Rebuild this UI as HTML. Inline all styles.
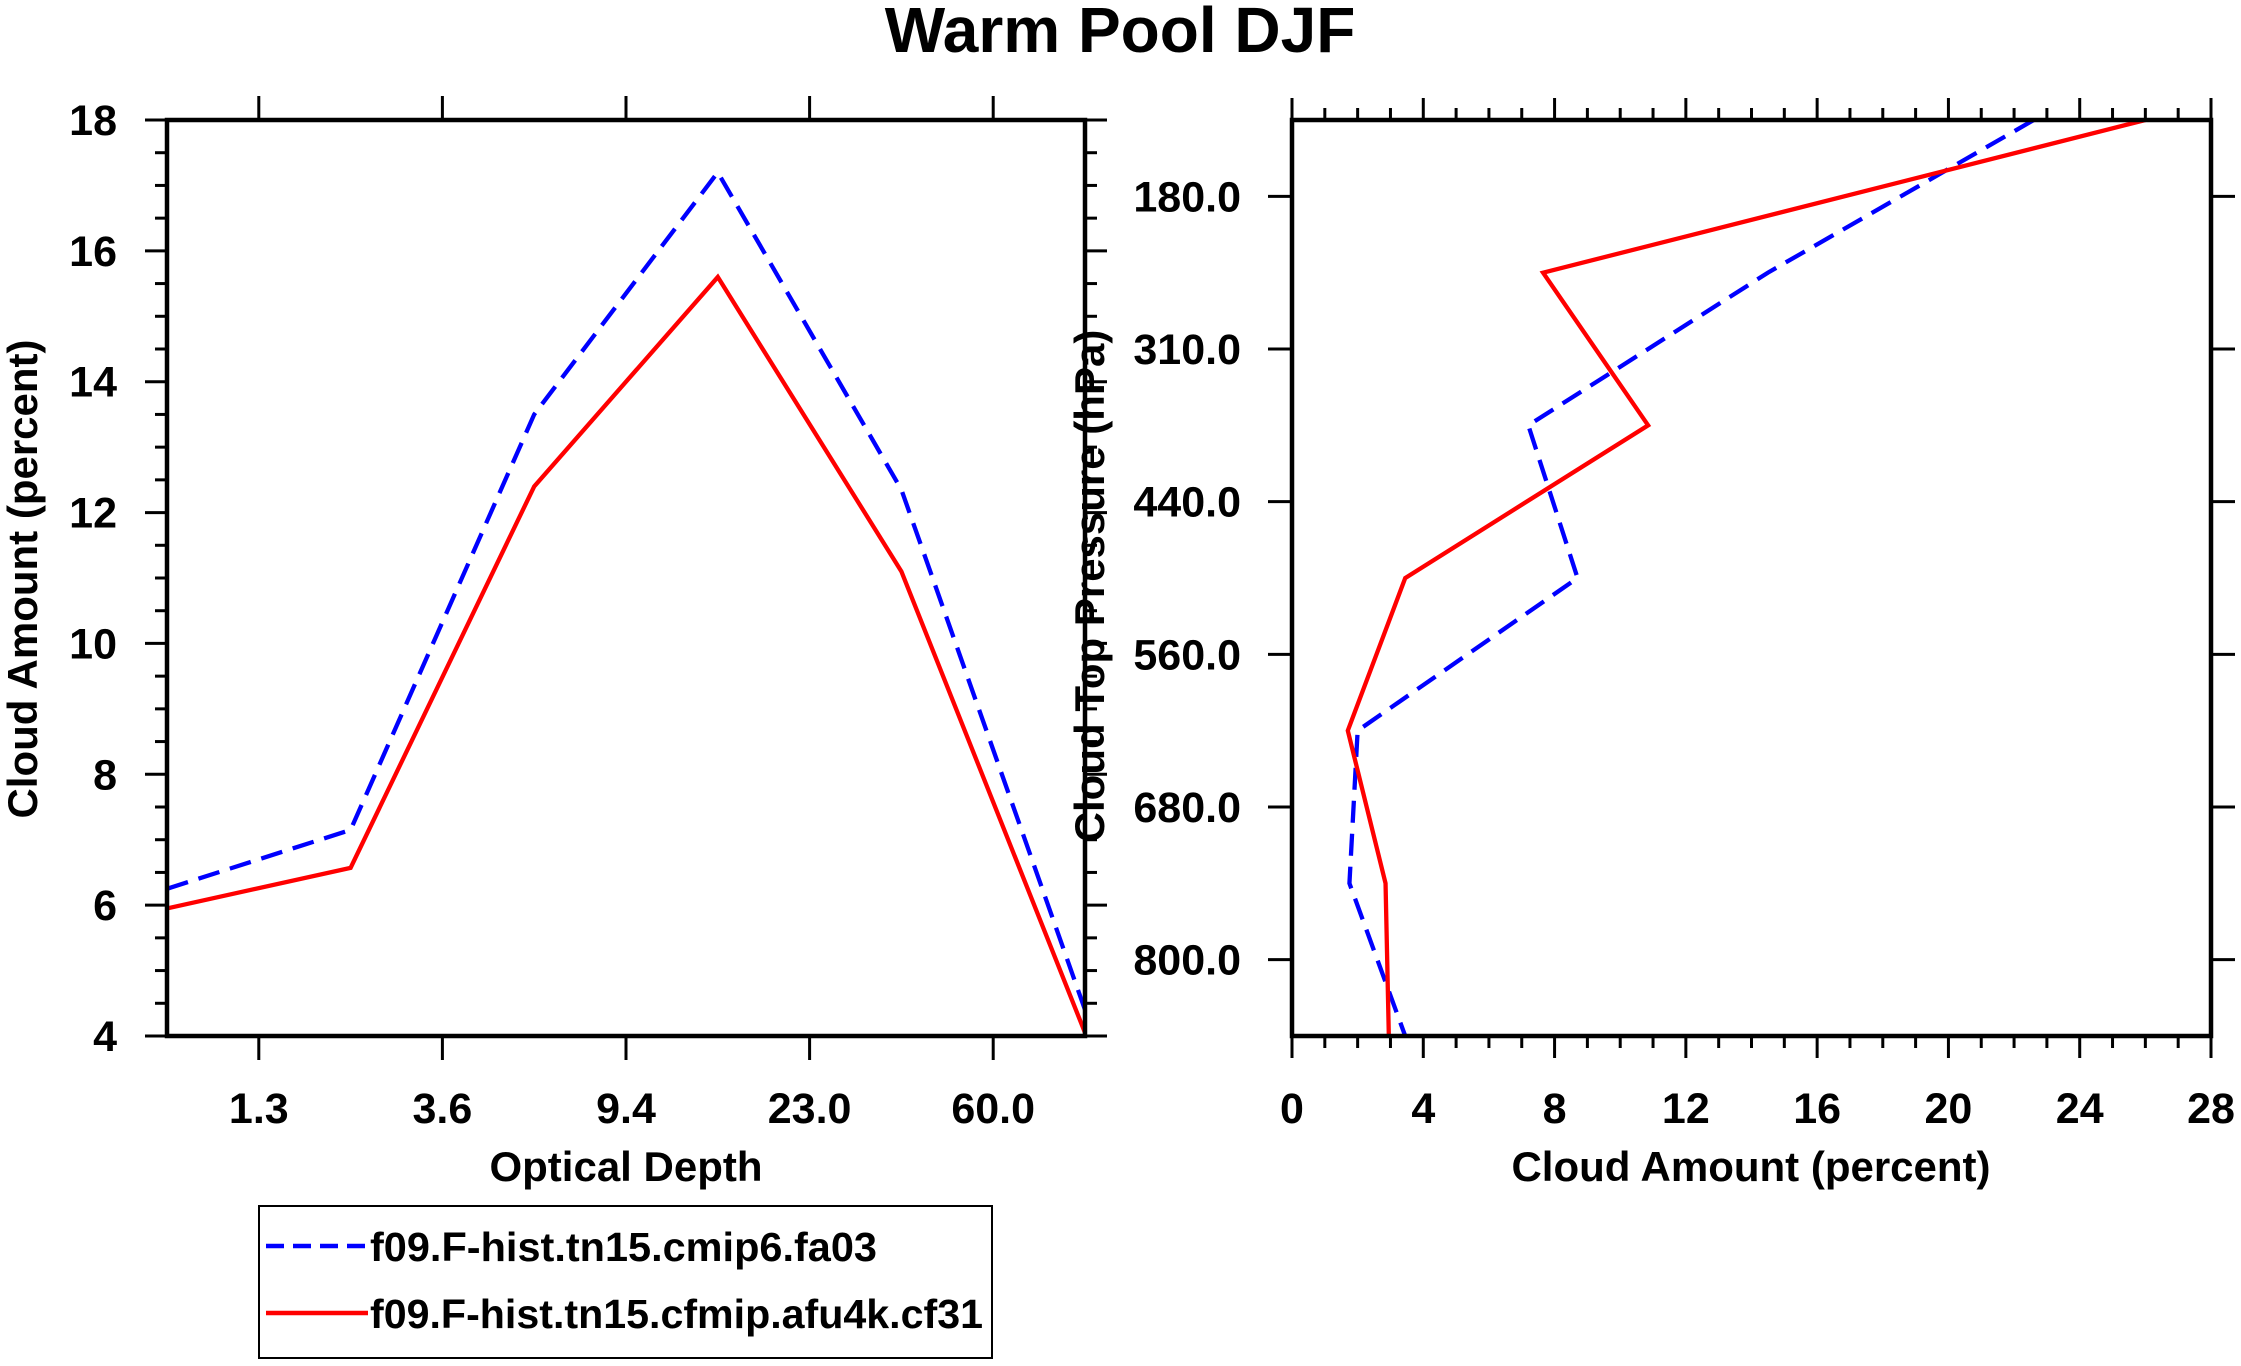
<!DOCTYPE html>
<html><head><meta charset="utf-8"><style>
html,body{margin:0;padding:0;background:#fff;}
svg{display:block;font-family:"Liberation Sans",Arial,sans-serif;font-weight:bold;}
</style></head><body>
<svg id="chart" width="2241" height="1366" viewBox="0 0 2241 1366" xmlns="http://www.w3.org/2000/svg">
<text x="1120" y="52" font-size="64" text-anchor="middle">Warm Pool DJF</text>
<g id="left"></g>
<g id="right"></g>
<g>
<rect x="259" y="1206" width="733" height="152" fill="none" stroke="#000" stroke-width="2"/>
<line x1="266" y1="1246" x2="368" y2="1246" stroke="#0000ff" stroke-width="4.5" stroke-dasharray="18,9"/>
<text x="370" y="1261" font-size="41" textLength="507" lengthAdjust="spacingAndGlyphs">f09.F-hist.tn15.cmip6.fa03</text>
<line x1="266" y1="1313" x2="368" y2="1313" stroke="#ff0000" stroke-width="4.5"/>
<text x="370" y="1328" font-size="41" textLength="613" lengthAdjust="spacingAndGlyphs">f09.F-hist.tn15.cfmip.afu4k.cf31</text>
</g>
</svg>
<script>
// Left panel data
const tauLabels = ["1.3","3.6","9.4","23.0","60.0"];
const tauBlue = [6.25, 7.15, 13.5, 17.2, 12.35, 4.4];
const tauRed = [5.95, 6.57, 12.4, 15.6, 11.1, 4.05];
const leftYTicks = [4,6,8,10,12,14,16,18];
// Right panel data
const presLabels = ["180.0","310.0","440.0","560.0","680.0","800.0"];
const presBlue = [22.6, 14.5, 7.2, 8.7, 2.0, 1.75, 3.45];
const presRed = [26.0, 7.65, 10.85, 3.45, 1.7, 2.85, 2.95];
const rightXTicks = [0,4,8,12,16,20,24,28];

const NS="http://www.w3.org/2000/svg";
function mk(parent,tag,attrs,text){const e=document.createElementNS(NS,tag);for(const k in attrs)e.setAttribute(k,attrs[k]);if(text!==undefined)e.textContent=text;parent.appendChild(e);return e;}
const FONT=43;

// ---- Left panel ----
const L=document.getElementById('left');
const lx0=167,lx1=1085,ly0=120,ly1=1036;
const lxs=i=>lx0+(lx1-lx0)*i/(tauBlue.length-1);
const lys=v=>ly1-(v-4)/(18-4)*(ly1-ly0);
for(let v=4;v<=18.001;v+=0.5){
  const y=lys(v),maj=Math.abs(v%2)<1e-6;const len=maj?22:12;
  let t=mk(L,'line',{x1:lx0-len,y1:y,x2:lx0,y2:y,stroke:'#000','stroke-width':3});
  
  
  t=mk(L,'line',{x1:lx1,y1:y,x2:lx1+len,y2:y,stroke:'#000','stroke-width':3});
  
  
}
leftYTicks.forEach(v=>{
  const t=mk(L,'text',{x:117,y:lys(v)+15,'font-size':FONT,'text-anchor':'end'},String(v));
  
  
});
tauLabels.forEach((s,i)=>{
  const x=lxs(i+0.5);
  let t=mk(L,'line',{x1:x,y1:ly1,x2:x,y2:ly1+24,stroke:'#000','stroke-width':3});
  
  
  t=mk(L,'line',{x1:x,y1:ly0-24,x2:x,y2:ly0,stroke:'#000','stroke-width':3});
  
  
  t=mk(L,'text',{x:x,y:1123,'font-size':FONT,'text-anchor':'middle'},s);
  
  
});
function series(P,xs,ys,vals,isX,color,dash,name){
  const pts=vals.map((v,i)=>isX?`${xs(v)},${ys(i)}`:`${xs(i)},${ys(v)}`).join(' ');
  const a={points:pts,fill:'none',stroke:color,'stroke-width':4.3,'stroke-linejoin':'miter'};
  if(dash)a['stroke-dasharray']='22,11';
  const p=mk(P,'polyline',a);
  
  
}
series(L,lxs,lys,tauBlue,false,'#0000ff',true,'series-cmip6-optical-depth');
series(L,lxs,lys,tauRed,false,'#ff0000',false,'series-afu4k-optical-depth');
let fr=mk(L,'rect',{x:lx0,y:ly0,width:lx1-lx0,height:ly1-ly0,fill:'none',stroke:'#000','stroke-width':4.5});


let tt=mk(L,'text',{x:626,y:1181,'font-size':42,'text-anchor':'middle'},'Optical Depth');


tt=mk(L,'text',{x:0,y:0,'font-size':42,'text-anchor':'middle',transform:'translate(37,579) rotate(-90)'},'Cloud Amount (percent)');



// ---- Right panel ----
const R=document.getElementById('right');
const rx0=1292,rx1=2211,ry0=120,ry1=1036;
const rxs=v=>rx0+v/28*(rx1-rx0);
const rys=i=>ry0+(ry1-ry0)*i/(presBlue.length-1);
for(let v=0;v<=28;v++){
  const x=rxs(v),maj=v%4===0,len=maj?22:12;
  let t=mk(R,'line',{x1:x,y1:ry1,x2:x,y2:ry1+len,stroke:'#000','stroke-width':3});
  
  
  t=mk(R,'line',{x1:x,y1:ry0-len,x2:x,y2:ry0,stroke:'#000','stroke-width':3});
  
  
}
rightXTicks.forEach(v=>{
  const t=mk(R,'text',{x:rxs(v),y:1123,'font-size':FONT,'text-anchor':'middle'},String(v));
  
  
});
presLabels.forEach((s,i)=>{
  const y=rys(i+0.5);
  let t=mk(R,'line',{x1:rx0-24,y1:y,x2:rx0,y2:y,stroke:'#000','stroke-width':3});
  
  
  t=mk(R,'line',{x1:rx1,y1:y,x2:rx1+24,y2:y,stroke:'#000','stroke-width':3});
  
  
  t=mk(R,'text',{x:1241,y:y+15,'font-size':FONT,'text-anchor':'end'},s);
  
  
});
series(R,rxs,rys,presBlue,true,'#0000ff',true,'series-cmip6-pressure');
series(R,rxs,rys,presRed,true,'#ff0000',false,'series-afu4k-pressure');
fr=mk(R,'rect',{x:rx0,y:ry0,width:rx1-rx0,height:ry1-ry0,fill:'none',stroke:'#000','stroke-width':4.5});


tt=mk(R,'text',{x:1751,y:1181,'font-size':42,'text-anchor':'middle'},'Cloud Amount (percent)');


tt=mk(R,'text',{x:0,y:0,'font-size':42,'text-anchor':'middle',transform:'translate(1104,586) rotate(-90)'},'Cloud Top Pressure (hPa)');


</script>
</body></html>
